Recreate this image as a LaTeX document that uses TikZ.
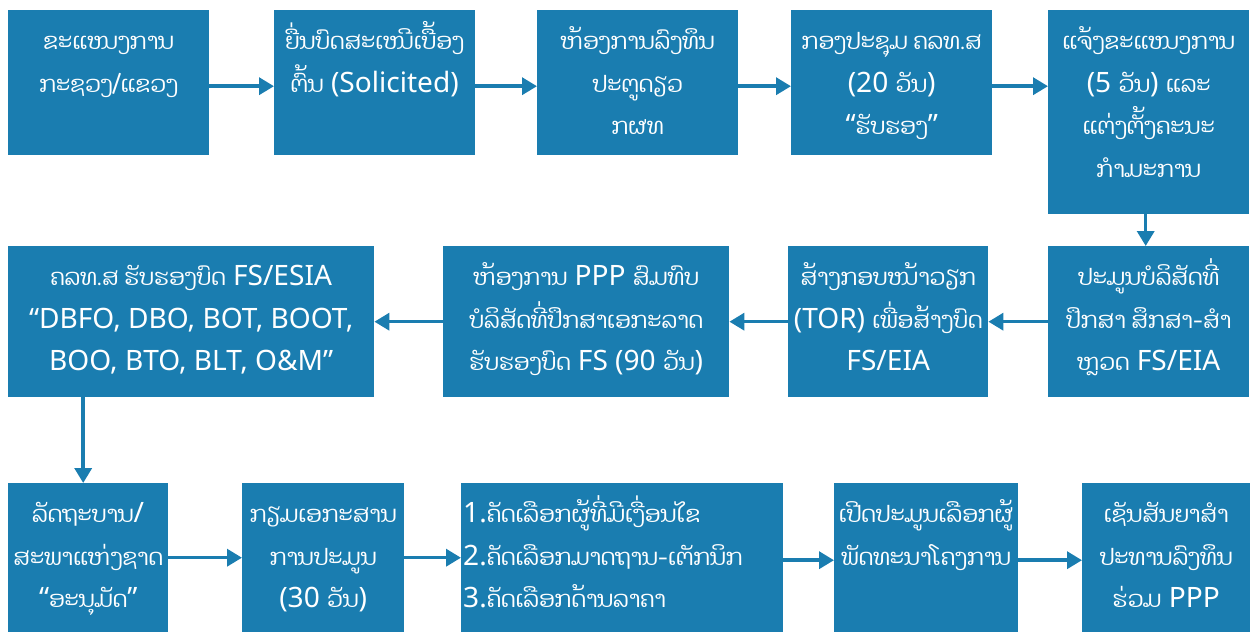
\documentclass[tikz,border=0pt]{standalone}
\usepackage{fontspec}
\setmainfont{Noto Sans}[Scale=1.17]
\newfontfamily\lao[Script=Lao,Scale=0.95]{Dhyana}
\usetikzlibrary{arrows.meta}
\definecolor{boxblue}{HTML}{1A7DB0}
\newcommand\lo[1]{{\lao #1}}
\newcommand\nl{\\\strut}
\begin{document}
\begin{tikzpicture}[x=1pt,y=-1pt,
  box/.style={fill=boxblue, draw=none, inner sep=0pt, anchor=north west},
  txt/.style={text=white, font=\fontsize{24}{42.5}\selectfont, align=center, inner sep=0pt, anchor=north, yshift=-10pt},
  conn/.style={draw=boxblue, line width=3.5pt, -{Triangle[length=15pt,width=17pt]}}
]
\useasboundingbox (0,0) rectangle (1251,632);
% row 1
\node[box, minimum width=201pt, minimum height=145pt,
  label={[txt]north:{\strut\lo{ຂະແໜງການ}\nl\lo{ກະຊວງ/ແຂວງ}}}] (b1) at (8,10) {};
\node[box, minimum width=201pt, minimum height=145pt,
  label={[txt]north:{\strut\lo{ຍື່ນບົດສະເໜີເບື້ອງ}\nl\lo{ຕົ້ນ} (Solicited)}}] (b2) at (274,10) {};
\node[box, minimum width=201pt, minimum height=145pt,
  label={[txt]north:{\strut\lo{ຫ້ອງການລົງທຶນ}\nl\lo{ປະຕູດຽວ}\nl\lo{ກຜທ}}}] (b3) at (537,10) {};
\node[box, minimum width=201pt, minimum height=145pt,
  label={[txt]north:{\strut\lo{ກອງປະຊຸມ ຄລທ.ສ}\nl(20 \lo{ວັນ})\nl“\lo{ຮັບຮອງ}”}}] (b4) at (791,10) {};
\node[box, minimum width=201pt, minimum height=204pt,
  label={[txt]north:{\strut\lo{ແຈ້ງຂະແໜງການ}\nl(5 \lo{ວັນ}) \lo{ແລະ}\nl\lo{ແຕ່ງຕັ້ງຄະນະ}\nl\lo{ກຳມະການ}}}] (b5) at (1048,10) {};
% row 2
\node[box, minimum width=201pt, minimum height=151pt,
  label={[txt]north:{\strut\lo{ປະມູນບໍລິສັດທີ່}\nl\lo{ປຶກສາ ສຶກສາ-ສຳ}\nl\lo{ຫຼວດ} FS/EIA}}] (b6) at (1048,246) {};
\node[box, minimum width=200pt, minimum height=151pt,
  label={[txt]north:{\strut\lo{ສ້າງກອບໜ້າວຽກ}\nl(TOR) \lo{ເພື່ອສ້າງບົດ}\nl FS/EIA}}] (b7) at (788,246) {};
\node[box, minimum width=286pt, minimum height=151pt,
  label={[txt]north:{\strut\lo{ຫ້ອງການ} PPP \lo{ສົມທົບ}\nl\lo{ບໍລິສັດທີ່ປຶກສາເອກະລາດ}\nl\lo{ຮັບຮອງບົດ} FS (90 \lo{ວັນ})}}] (b8) at (443,246) {};
\node[box, minimum width=366pt, minimum height=151pt,
  label={[txt]north:{\strut\lo{ຄລທ.ສ ຮັບຮອງບົດ} FS/ESIA\nl“DBFO, DBO, BOT, BOOT,\nl BOO, BTO, BLT, O\&M”}}] (b9) at (8,246) {};
% row 3
\node[box, minimum width=160pt, minimum height=149pt,
  label={[txt]north:{\strut\lo{ລັດຖະບານ}/\nl\lo{ສະພາແຫ່ງຊາດ}\nl“\lo{ອະນຸມັດ}”}}] (b10) at (8,483) {};
\node[box, minimum width=162pt, minimum height=149pt,
  label={[txt]north:{\strut\lo{ກຽມເອກະສານ}\nl\lo{ການປະມູນ}\nl(30 \lo{ວັນ})}}] (b11) at (242,483) {};
\node[box, minimum width=322pt, minimum height=149pt,
  label={[txt, align=left, anchor=north west, xshift=2pt]north west:{\strut 1.\lo{ຄັດເລືອກຜູ້ທີ່ມີເງື່ອນໄຂ}\nl 2.\lo{ຄັດເລືອກມາດຖານ-ເຕັກນິກ}\nl 3.\lo{ຄັດເລືອກດ້ານລາຄາ}}}] (b12) at (461,483) {};
\node[box, minimum width=184pt, minimum height=149pt,
  label={[txt]north:{\strut\lo{ເປີດປະມູນເລືອກຜູ້}\nl\lo{ພັດທະນາໂຄງການ}}}] (b13) at (834,483) {};
\node[box, minimum width=168pt, minimum height=149pt,
  label={[txt]north:{\strut\lo{ເຊັນສັນຍາສຳ}\nl\lo{ປະທານລົງທຶນ}\nl\lo{ຮ່ວມ} PPP}}] (b14) at (1082,483) {};
% connectors
\draw[conn] ([yshift=-3.5pt]b1.east) -- ([yshift=-3.5pt]b2.west);
\draw[conn] ([yshift=-3.5pt]b2.east) -- ([yshift=-3.5pt]b3.west);
\draw[conn] ([yshift=-3.5pt]b3.east) -- ([yshift=-3.5pt]b4.west);
\draw[conn] ([yshift=-3.5pt]b4.east) -- ([yshift=-3.5pt]b4.east -| b5.west);
\draw[conn] ([xshift=-3pt]b5.south) -- ([xshift=-3pt]b6.north);
\draw[conn] (b6.west) -- (b7.east);
\draw[conn] (b7.west) -- (b8.east);
\draw[conn] (b8.west) -- (b9.east);
\draw[conn] ([xshift=-5pt]b10.north |- b9.south) -- ([xshift=-5pt]b10.north);
\draw[conn] (b10.east) -- (b11.west);
\draw[conn] (b11.east) -- (b12.west);
\draw[conn] ([yshift=-2.5pt]b12.east) -- ([yshift=-2.5pt]b13.west);
\draw[conn] ([yshift=-2.5pt]b13.east) -- ([yshift=-2.5pt]b14.west);
\end{tikzpicture}
\end{document}
